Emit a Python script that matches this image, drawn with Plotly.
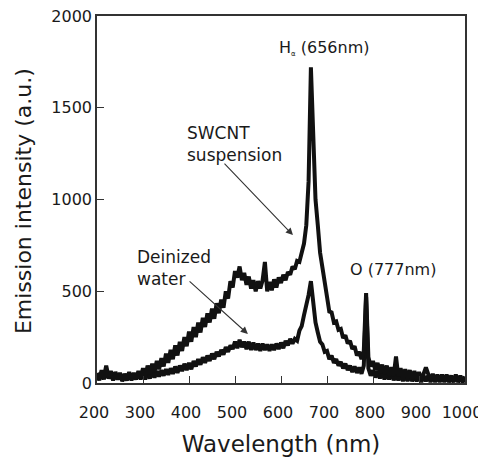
import plotly.graph_objects as go

# Wavelength sampling (nm)
wavelength = list(range(200, 1001, 5))

# SWCNT suspension emission (a.u.) (noisy band)
swcnt = [
    55, 20, 70, 30, 95, 35, 65, 20, 60, 25,            # 200-245
    55, 15, 50, 20, 60, 20, 55, 25, 65, 30,            # 250-295
    80, 35, 95, 50, 105, 60, 120, 75, 135, 90,         # 300-345
    160, 110, 180, 130, 205, 150, 225, 175, 250, 200,  # 350-395
    280, 225, 305, 250, 330, 275, 355, 305, 380, 330,  # 400-445
    405, 350, 435, 380, 455, 410, 500, 460, 555, 520,  # 450-495
    610, 575, 635, 560, 600, 535, 580, 515, 560, 500,  # 500-545
    555, 515, 560, 660, 500, 550, 505, 565, 520, 575,  # 550-595
    545, 590, 560, 605, 590, 635, 620, 665, 660, 710,  # 600-645
    760, 860, 1100, 1720, 1300, 1000, 860, 710, 630, 530,  # 650-695
    470, 390, 385, 330, 335, 290, 295, 245, 260, 215,  # 700-745
    230, 185, 200, 150, 170, 130, 175, 490, 140, 90,   # 750-795
    120, 70, 110, 55, 100, 50, 95, 40, 85, 40,         # 800-845
    145, 35, 80, 30, 75, 25, 70, 20, 65, 20,           # 850-895
    60, 15, 55, 85, 50, 15, 50, 10, 45, 15,            # 900-945
    45, 10, 45, 15, 40, 10, 45, 10, 40, 10,            # 950-995
    35,                                                # 1000
]

# Deionized water emission (a.u.) (noisy band)
water = [
    45, 15, 55, 20, 75, 25, 50, 15, 45, 20,            # 200-245
    45, 10, 40, 15, 50, 15, 45, 20, 50, 20,            # 250-295
    50, 20, 55, 25, 60, 30, 65, 35, 70, 40,            # 300-345
    75, 45, 80, 50, 90, 55, 95, 65, 105, 70,           # 350-395
    110, 75, 120, 90, 130, 100, 140, 110, 150, 120,    # 400-445
    160, 130, 170, 145, 180, 155, 195, 170, 205, 185,  # 450-495
    225, 190, 235, 195, 225, 185, 225, 180, 220, 180,  # 500-545
    215, 175, 215, 180, 210, 175, 210, 180, 215, 185,  # 550-595
    220, 190, 230, 205, 240, 215, 240, 230, 285, 310,  # 600-645
    370, 420, 480, 555, 430, 330, 275, 225, 210, 170,  # 650-695
    175, 130, 150, 110, 130, 95, 115, 80, 105, 70,     # 700-745
    95, 60, 90, 55, 85, 50, 95, 470, 80, 40,           # 750-795
    70, 30, 65, 25, 60, 20, 55, 20, 55, 15,            # 800-845
    50, 15, 50, 10, 45, 10, 45, 10, 40, 10,            # 850-895
    40, 5, 40, 10, 40, 5, 35, 5, 35, 5,                # 900-945
    35, 5, 35, 5, 30, 5, 35, 5, 30, 5,                 # 950-995
    30,                                                # 1000
]

x_ticks = [200, 300, 400, 500, 600, 700, 800, 900, 1000]
y_ticks = [0, 500, 1000, 1500, 2000]

FONT = "DejaVu Sans"
INK = "#1a1a1a"

fig = go.Figure()
fig.add_trace(go.Scatter(x=wavelength, y=water, mode="lines",
                         line=dict(color="#111111", width=4), showlegend=False))
fig.add_trace(go.Scatter(x=wavelength, y=swcnt, mode="lines",
                         line=dict(color="#111111", width=4), showlegend=False))

axis_common = dict(showline=True, linecolor="#333333", linewidth=1.5, mirror=True,
                   ticks="inside", ticklen=7, tickwidth=1.2, tickcolor="#333333",
                   showgrid=False, zeroline=False, automargin=False,
                   ticklabeloverflow="allow",
                   tickfont=dict(family=FONT, size=16, color=INK))

fig.update_xaxes(range=[200, 1000], tickvals=x_ticks, ticklabelstandoff=14, ticklabelshift=-3,
                 title=dict(text="Wavelength (nm)", font=dict(family=FONT, size=23, color=INK), standoff=15),
                 **axis_common)
fig.update_yaxes(range=[0, 2000], tickvals=y_ticks, ticklabelstandoff=0, **axis_common)

ann_font = dict(family=FONT, size=17, color=INK)
annotations = [
    dict(x=-0.198, y=0.496, xref="paper", yref="paper", text="Emission intensity (a.u.)",
         textangle=-90, xanchor="center", yanchor="middle", showarrow=False,
         font=dict(family=FONT, size=22, color=INK)),
    dict(x=591, y=1823, text="H<sub><span style='font-size:7px'>α</span></sub> (656nm)",
         xanchor="left", yanchor="middle", showarrow=False, font=dict(family=FONT, size=16, color=INK)),
    dict(x=746, y=616, text="O (777nm)", xanchor="left", yanchor="middle",
         showarrow=False, font=dict(family=FONT, size=16, color=INK)),
    dict(x=391, y=1430, text="SWCNT<br>suspension", xanchor="left", yanchor="top",
         align="left", showarrow=False, font=ann_font),
    dict(x=283, y=750, text="Deinized<br>water", xanchor="left", yanchor="top",
         align="left", showarrow=False, font=ann_font),
    # arrows
    dict(x=626, y=806, ax=474, ay=1204, xref="x", yref="y", axref="x", ayref="y",
         text="", showarrow=True, arrowhead=2, arrowsize=1.3, arrowwidth=1.1, arrowcolor="#333333"),
    dict(x=528, y=267, ax=398, ay=561, xref="x", yref="y", axref="x", ayref="y",
         text="", showarrow=True, arrowhead=2, arrowsize=1.3, arrowwidth=1.1, arrowcolor="#333333"),
]
fig.update_layout(annotations=annotations)

# The page body adds an 8px margin, so the figure is sized to fit inside it.
fig.update_layout(width=478, height=451, margin=dict(l=89, r=21, t=8, b=76),
                  paper_bgcolor="white", plot_bgcolor="white",
                  font=dict(family=FONT, color=INK))

fig.write_html("out.html")
